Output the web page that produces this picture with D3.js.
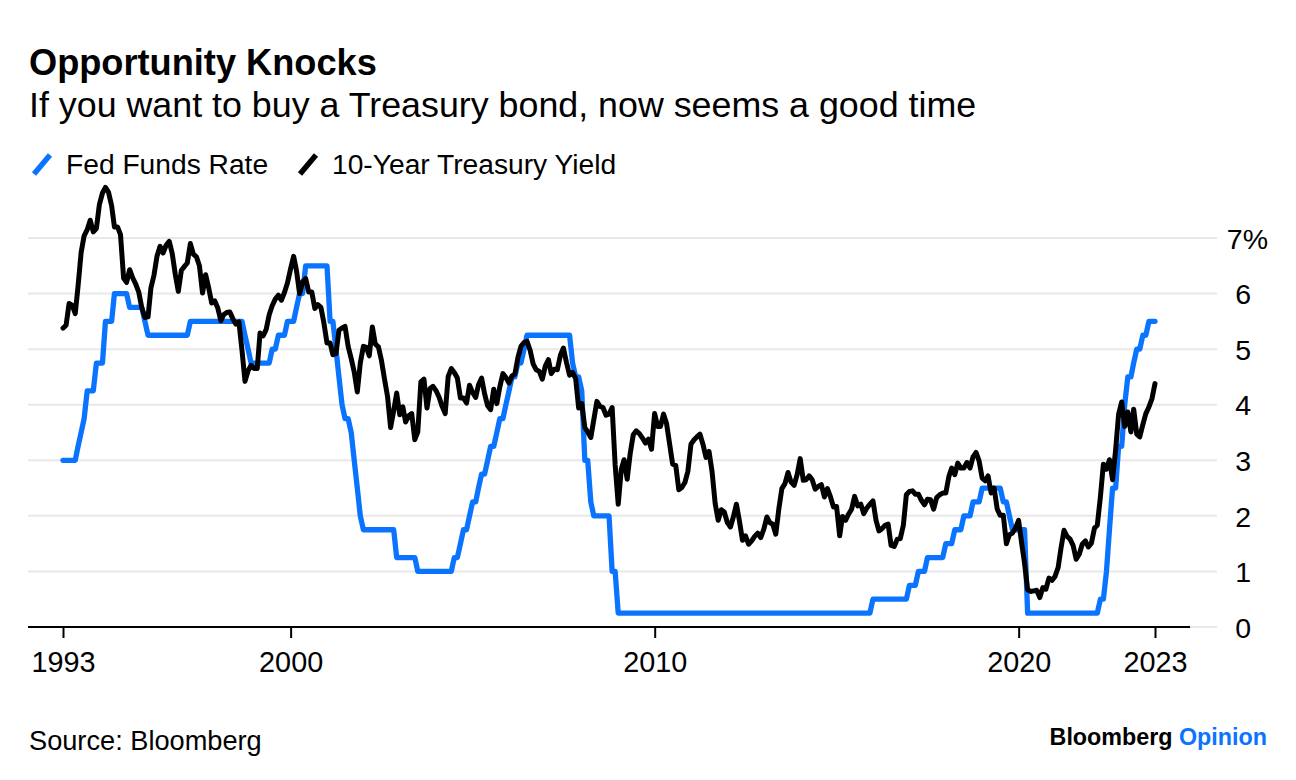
<!DOCTYPE html>
<html>
<head>
<meta charset="utf-8">
<script src="https://cdn.jsdelivr.net/npm/d3@7"></script>
<style>
  body { margin: 0; background: #fff; }
  svg { display: block; }
  text { font-family: "Liberation Sans", Arial, Helvetica, sans-serif; }
</style>
</head>
<body>
<svg id="chart" width="1296" height="780"></svg>
<script>
// ---------- DATA (month-end, Sep 1993 .. Sep 2023) ----------
const startYear = 1993, startMonthIndex = 8; // September 1993

const fedFundsRate = [
  3,3,3,3,
  3,3.25,3.5,3.75,4.25,4.25,4.25,4.75,4.75,4.75,5.5,5.5,
  5.5,6,6,6,6,6,5.75,5.75,5.75,5.75,5.75,5.5,
  5.25,5.25,5.25,5.25,5.25,5.25,5.25,5.25,5.25,5.25,5.25,5.25,
  5.25,5.25,5.5,5.5,5.5,5.5,5.5,5.5,5.5,5.5,5.5,5.5,
  5.5,5.5,5.5,5.5,5.5,5.5,5.5,5.5,5.25,5,4.75,4.75,
  4.75,4.75,4.75,4.75,4.75,5,5,5.25,5.25,5.25,5.5,5.5,
  5.5,5.75,6,6,6.5,6.5,6.5,6.5,6.5,6.5,6.5,6.5,
  5.5,5.5,5,4.5,4,3.75,3.75,3.5,3,2.5,2,1.75,
  1.75,1.75,1.75,1.75,1.75,1.75,1.75,1.75,1.75,1.75,1.25,1.25,
  1.25,1.25,1.25,1.25,1.25,1,1,1,1,1,1,1,
  1,1,1,1,1,1.25,1.25,1.5,1.75,1.75,2,2.25,
  2.25,2.5,2.75,2.75,3,3.25,3.25,3.5,3.75,3.75,4,4.25,
  4.5,4.5,4.75,4.75,5,5.25,5.25,5.25,5.25,5.25,5.25,5.25,
  5.25,5.25,5.25,5.25,5.25,5.25,5.25,5.25,4.75,4.5,4.5,4.25,
  3,3,2.25,2,2,2,2,2,2,1,1,0.25,
  0.25,0.25,0.25,0.25,0.25,0.25,0.25,0.25,0.25,0.25,0.25,0.25,
  0.25,0.25,0.25,0.25,0.25,0.25,0.25,0.25,0.25,0.25,0.25,0.25,
  0.25,0.25,0.25,0.25,0.25,0.25,0.25,0.25,0.25,0.25,0.25,0.25,
  0.25,0.25,0.25,0.25,0.25,0.25,0.25,0.25,0.25,0.25,0.25,0.25,
  0.25,0.25,0.25,0.25,0.25,0.25,0.25,0.25,0.25,0.25,0.25,0.25,
  0.25,0.25,0.25,0.25,0.25,0.25,0.25,0.25,0.25,0.25,0.25,0.25,
  0.25,0.25,0.25,0.25,0.25,0.25,0.25,0.25,0.25,0.25,0.25,0.5,
  0.5,0.5,0.5,0.5,0.5,0.5,0.5,0.5,0.5,0.5,0.5,0.75,
  0.75,0.75,1,1,1,1.25,1.25,1.25,1.25,1.25,1.25,1.5,
  1.5,1.5,1.75,1.75,1.75,2,2,2,2.25,2.25,2.25,2.5,
  2.5,2.5,2.5,2.5,2.5,2.5,2.25,2.25,2,1.75,1.75,1.75,
  1.75,1.75,0.25,0.25,0.25,0.25,0.25,0.25,0.25,0.25,0.25,0.25,
  0.25,0.25,0.25,0.25,0.25,0.25,0.25,0.25,0.25,0.25,0.25,0.25,
  0.25,0.25,0.5,0.5,1,1.75,2.5,2.5,3.25,3.25,4,4.5,
  4.5,4.75,5,5,5.25,5.25,5.5,5.5,5.5
];

const treasuryYield10 = [
  5.38,5.43,5.82,5.79,
  5.64,6.13,6.74,7.04,7.15,7.32,7.11,7.17,7.60,7.81,7.91,7.82,
  7.58,7.20,7.20,7.06,6.28,6.20,6.43,6.28,6.17,6.02,5.74,5.57,
  5.58,6.10,6.33,6.67,6.85,6.73,6.87,6.94,6.72,6.34,6.04,6.42,
  6.49,6.55,6.90,6.71,6.66,6.50,6.01,6.34,6.11,5.83,5.87,5.74,
  5.51,5.62,5.66,5.67,5.55,5.45,5.49,4.98,4.42,4.61,4.71,4.65,
  4.65,5.29,5.24,5.35,5.62,5.78,5.90,5.97,5.88,6.02,6.19,6.44,
  6.67,6.41,6.00,6.21,6.27,6.03,6.03,5.73,5.80,5.75,5.47,5.11,
  5.11,4.90,4.92,5.34,5.38,5.41,5.05,4.83,4.59,4.23,4.75,5.05,
  5.03,4.88,5.40,5.09,5.04,4.80,4.46,4.14,3.59,3.89,4.21,3.82,
  3.96,3.69,3.80,3.84,3.37,3.51,4.41,4.46,3.94,4.29,4.33,4.25,
  4.13,3.97,3.84,4.51,4.65,4.58,4.48,4.12,4.12,4.03,4.35,4.22,
  4.13,4.36,4.48,4.20,3.98,3.91,4.28,4.02,4.32,4.56,4.49,4.39,
  4.52,4.55,4.85,5.05,5.12,5.14,4.98,4.73,4.63,4.60,4.46,4.70,
  4.81,4.56,4.64,4.63,4.89,5.02,4.76,4.53,4.58,4.47,3.94,4.02,
  3.59,3.51,3.41,3.73,4.06,3.97,3.95,3.81,3.83,3.95,2.92,2.21,
  2.84,3.01,2.66,3.12,3.46,3.53,3.48,3.40,3.31,3.38,3.20,3.84,
  3.61,3.61,3.83,3.66,3.29,2.93,2.91,2.47,2.51,2.60,2.80,3.29,
  3.37,3.42,3.47,3.29,3.05,3.16,2.79,2.22,1.92,2.11,2.07,1.88,
  1.80,1.98,2.21,1.91,1.56,1.64,1.49,1.55,1.63,1.69,1.61,1.76,
  1.98,1.88,1.85,1.67,2.13,2.49,2.58,2.78,2.61,2.55,2.74,3.03,
  2.64,2.65,2.72,2.65,2.48,2.53,2.56,2.34,2.49,2.34,2.16,2.17,
  1.64,1.99,1.92,2.03,2.12,2.35,2.18,2.21,2.04,2.14,2.21,2.27,
  1.92,1.73,1.77,1.83,1.85,1.47,1.45,1.58,1.59,1.83,2.38,2.44,
  2.45,2.39,2.39,2.28,2.20,2.30,2.29,2.12,2.33,2.38,2.41,2.41,
  2.71,2.86,2.74,2.95,2.86,2.86,2.96,2.86,3.06,3.14,2.99,2.68,
  2.63,2.72,2.41,2.50,2.12,2.01,2.01,1.50,1.66,1.69,1.78,1.92,
  1.51,1.15,0.67,0.64,0.65,0.66,0.53,0.71,0.68,0.88,0.84,0.91,
  1.07,1.41,1.74,1.63,1.58,1.47,1.22,1.31,1.49,1.55,1.44,1.51,
  1.78,1.83,2.34,2.93,2.84,3.01,2.65,3.19,3.83,4.05,3.61,3.87,
  3.51,3.92,3.47,3.42,3.64,3.84,3.96,4.11,4.38
];

const xTickDates  = ["1993-09-30", "2000-01-01", "2010-01-01", "2020-01-01", "2023-09-30"];
const xTickLabels = ["1993", "2000", "2010", "2020", "2023"];
const yTickValues = [0, 1, 2, 3, 4, 5, 6, 7];
const yTickLabels = ["0", "1", "2", "3", "4", "5", "6", "7%"];
const seriesNames = ["Fed Funds Rate", "10-Year Treasury Yield"];
const seriesColors = ["#0a74ff", "#000000"];

// ---------- CHART ----------
const FONT = "Liberation Sans, Arial, sans-serif";
const svg = d3.select("#chart");
const parse = d3.timeParse("%Y-%m-%d");
// month-end date for each observation
const dates = fedFundsRate.map((_, i) => new Date(startYear, startMonthIndex + i + 1, 0));

const x = d3.scaleTime()
  .domain([parse(xTickDates[0]), parse(xTickDates[xTickDates.length - 1])])
  .range([63, 1155]);
const y = d3.scaleLinear().domain([0, 7]).range([627, 238]);

const gridLeft = 28, gridRight = 1217, axisRight = 1190;

// Title, subtitle
svg.append("text").attr("x", 29).attr("y", 75)
  .attr("font-size", 36.2).attr("font-weight", "bold").attr("fill", "#000")
  .text("Opportunity Knocks");
svg.append("text").attr("x", 29).attr("y", 117)
  .attr("font-size", 35.8).attr("fill", "#000")
  .text("If you want to buy a Treasury bond, now seems a good time");

// Legend
const legendX = [32, 298];
seriesNames.forEach((name, i) => {
  const g = svg.append("g").attr("transform", `translate(${legendX[i]},0)`);
  g.append("line").attr("x1", 2).attr("y1", 174).attr("x2", 18).attr("y2", 155)
    .attr("stroke", seriesColors[i]).attr("stroke-width", 5.5).attr("stroke-linecap", "butt");
  g.append("text").attr("x", 34).attr("y", 174)
    .attr("font-size", 28.2).attr("fill", "#000").text(name);
});

// Gridlines
svg.append("g").selectAll("line").data(yTickValues).join("line")
  .attr("x1", gridLeft).attr("x2", gridRight)
  .attr("y1", d => y(d)).attr("y2", d => y(d))
  .attr("stroke", "#e8e8e8").attr("stroke-width", 2);

// Y labels (right)
const yAxis = d3.axisRight(y).tickValues(yTickValues).tickSize(0).tickPadding(0)
  .tickFormat((d, i) => yTickLabels[i]);
const yg = svg.append("g").attr("transform", "translate(1251,0)").call(yAxis);
yg.select(".domain").remove();
yg.selectAll("text").attr("text-anchor", "end").attr("font-size", 28.5)
  .attr("fill", "#000").attr("font-family", FONT)
  .attr("dy", "0.36em")
  .attr("x", d => d === 7 ? 17 : 0);

// Lines
const line = d3.line().x((d, i) => x(dates[i])).y(d => y(d));
const seriesData = [fedFundsRate, treasuryYield10];
seriesData.forEach((vals, i) => {
  svg.append("path").datum(vals)
    .attr("d", line)
    .attr("fill", "none")
    .attr("stroke", seriesColors[i])
    .attr("stroke-width", i === 0 ? 5.3 : 5)
    .attr("stroke-linejoin", "round")
    .attr("stroke-linecap", "round");
});

// X axis baseline + ticks
svg.append("line").attr("x1", gridLeft).attr("x2", axisRight)
  .attr("y1", y(0)).attr("y2", y(0)).attr("stroke", "#000").attr("stroke-width", 2);
const xAxis = d3.axisBottom(x).tickValues(xTickDates.map(parse))
  .tickSize(11).tickPadding(14)
  .tickFormat((d, i) => xTickLabels[i]);
const xg = svg.append("g").attr("transform", `translate(0,${y(0)})`).call(xAxis);
xg.select(".domain").remove();
xg.selectAll("line").attr("stroke", "#000").attr("stroke-width", 2);
xg.selectAll("text").attr("font-size", 28.8).attr("fill", "#000")
  .attr("font-family", FONT);

// Footer
svg.append("text").attr("x", 29).attr("y", 750)
  .attr("font-size", 27.2).attr("fill", "#000").text("Source: Bloomberg");
const brand = svg.append("text").attr("x", 1267).attr("y", 745)
  .attr("text-anchor", "end").attr("font-size", 23.3).attr("font-weight", "bold");
brand.append("tspan").attr("fill", "#000").text("Bloomberg ");
brand.append("tspan").attr("fill", "#0a74ff").text("Opinion");
</script>
</body>
</html>
